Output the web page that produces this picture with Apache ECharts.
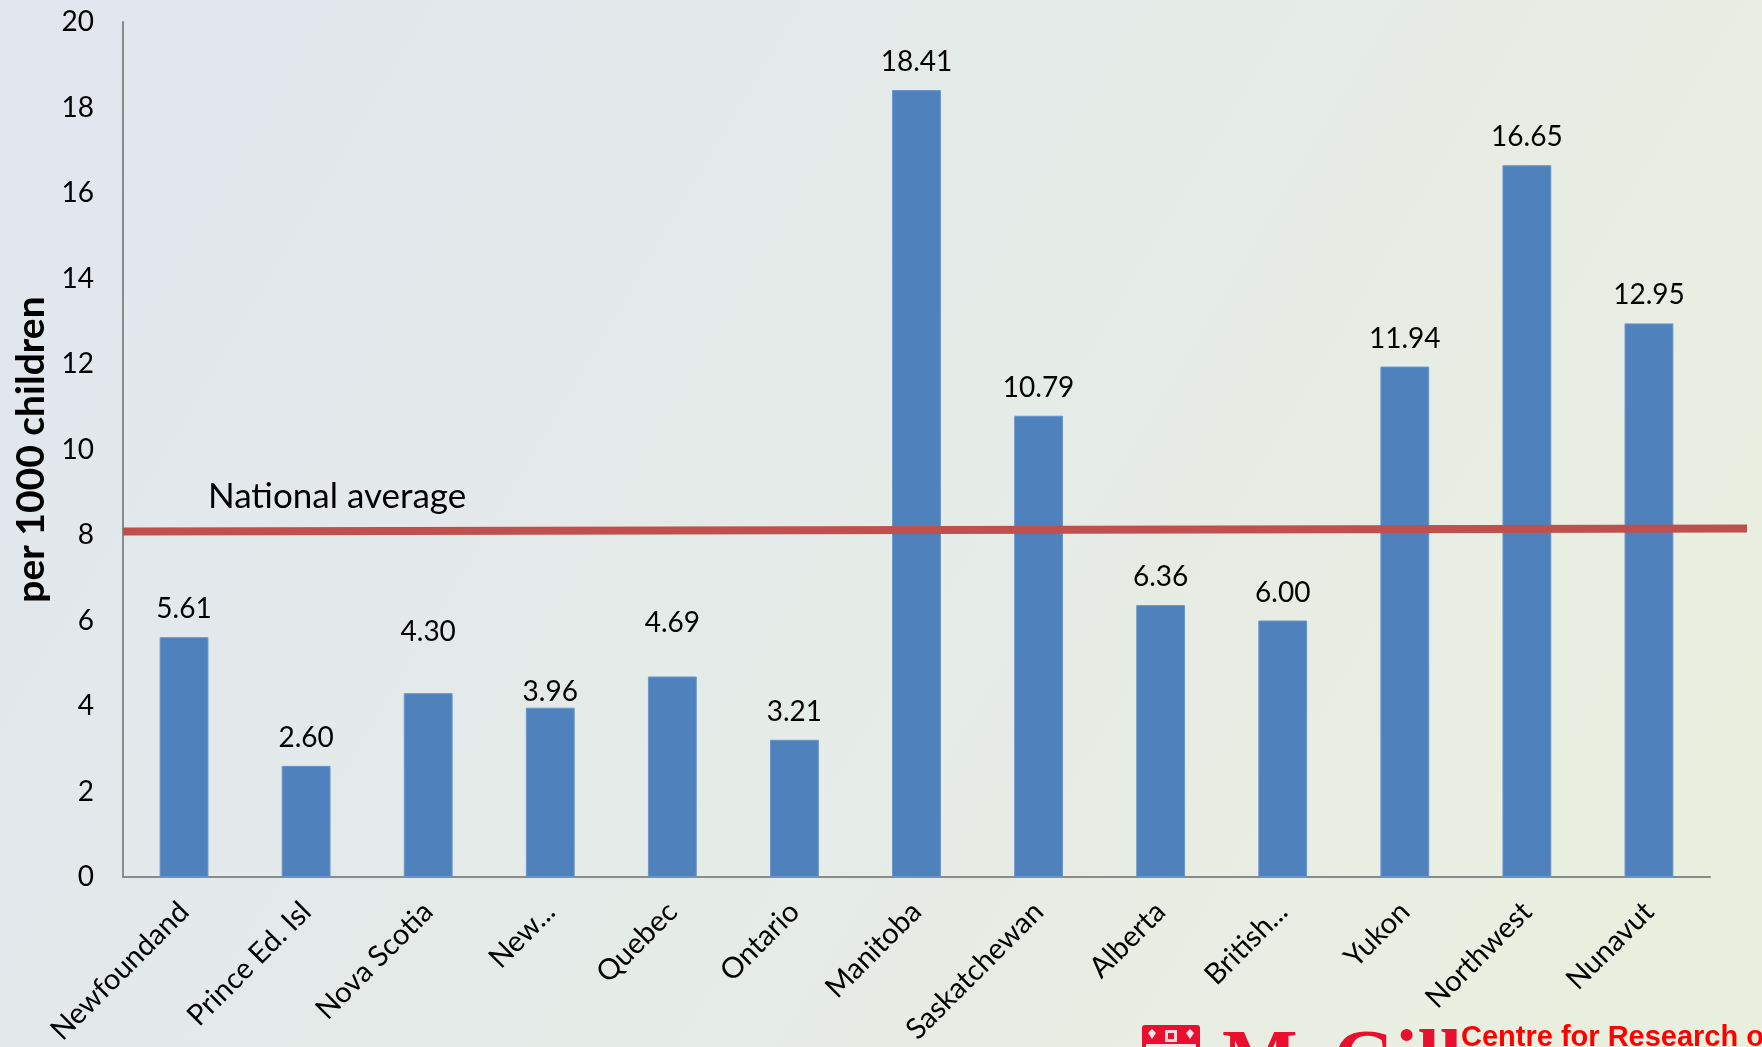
<!DOCTYPE html>
<html>
<head>
<meta charset="utf-8">
<title>Rate per 1000 children by province and territory</title>
<script src="https://cdn.jsdelivr.net/npm/echarts@6/dist/echarts.min.js"></script>
<style>
  html, body { margin: 0; padding: 0; }
  #chart { width: 1762px; height: 1047px; }
</style>
</head>
<body>
<div id="chart"></div>
<script>
// Provinces and territories (labels as shown on the axis)
const categories = ['Newfoundand', 'Prince Ed. Isl', 'Nova Scotia', 'New...', 'Quebec', 'Ontario',
  'Manitoba', 'Saskatchewan', 'Alberta', 'British...', 'Yukon', 'Northwest', 'Nunavut'];

// Rate per 1000 children
const rates = [5.61, 2.60, 4.30, 3.96, 4.69, 3.21, 18.41, 10.79, 6.36, 6.00, 11.94, 16.65, 12.95];

// Extra vertical lift (px) of a few value labels that sit off their default spot
const labelLift = [0, 0, 33, -12, 26, 0, 0, 0, 0, 0, 0, 0, 0];

// Value axis range and step
const yMin = 0;
const yMax = 20;
const yStep = 2;

// National average reference line (value at its left and right ends)
const nationalAverage = [8.08, 8.15];
const nationalAverageLabel = 'National average';

const yAxisTitle = 'per 1000 children';

const W = 1762, H = 1047;
const gridLeft = 123, gridRight = 52, gridTop = 22, gridBottom = 170;

const chart = echarts.init(document.getElementById('chart'), null, { renderer: 'canvas' });

const barData = rates.map((v, i) => ({
  value: v,
  label: { offset: [0, -labelLift[i]] }
}));

const option = {
  backgroundColor: {
    type: 'linear', x: 0, y: 0, x2: 1, y2: 1,
    colorStops: [
      { offset: 0, color: '#e1e6ef' },
      { offset: 0.5, color: '#e5ebe7' },
      { offset: 1, color: '#eaf0de' }
    ]
  },
  animation: false,
  grid: {
    left: gridLeft, right: gridRight, top: gridTop, bottom: gridBottom,
    containLabel: false,
    outerBoundsMode: 'none'
  },
  xAxis: {
    type: 'category',
    data: categories,
    axisLine: { show: true, lineStyle: { color: '#8a8a8a', width: 2 } },
    axisTick: { show: false },
    axisLabel: {
      rotate: 45,
      margin: 30,
      interval: 0,
      color: '#000',
      fontFamily: 'Lato',
      fontSize: 29
    }
  },
  yAxis: {
    type: 'value',
    min: yMin,
    max: yMax,
    interval: yStep,
    name: yAxisTitle,
    nameLocation: 'middle',
    nameGap: 72,
    nameRotate: 90,
    nameTextStyle: { color: '#000', fontFamily: 'Lato', fontWeight: 'bold', fontSize: 39 },
    axisLine: { show: true, lineStyle: { color: '#8a8a8a', width: 2 } },
    axisTick: { show: false },
    splitLine: { show: false },
    axisLabel: { margin: 29, color: '#000', fontFamily: 'Lato', fontSize: 28 }
  },
  series: [{
    type: 'bar',
    data: barData,
    barWidth: '40%',
    itemStyle: { color: '#4f81bd', borderColor: '#6a95c9', borderWidth: 1 },
    label: {
      show: true,
      position: 'top',
      distance: 14,
      color: '#000',
      fontFamily: 'Lato',
      fontSize: 28,
      formatter: p => p.value.toFixed(2)
    },
    markLine: {
      silent: true,
      symbol: ['none', 'none'],
      lineStyle: { color: '#c0504d', width: 8, type: 'solid' },
      label: { show: false },
      data: [[
        { x: gridLeft, yAxis: nationalAverage[0] },
        { x: W - 15, yAxis: nationalAverage[1] }
      ]]
    }
  }],
  graphic: []
};

chart.setOption(option);

// Caption above the reference line, placed through the value scale
const captionY = chart.convertToPixel({ yAxisIndex: 0 }, nationalAverage[0]);
const graphics = [
  {
    type: 'text',
    left: 208,
    top: captionY - 52,
    style: { text: nationalAverageLabel, fill: '#000', font: '35px Lato' }
  },
  // Crest
  {
    type: 'group',
    left: 1142,
    top: 1025,
    children: [
      { type: 'rect', shape: { x: 0, y: 0, width: 58, height: 40, r: 3 }, style: { fill: '#e8102e' } },
      { type: 'rect', shape: { x: 23, y: 5, width: 12, height: 12 }, style: { fill: '#f7d9dc' } },
      { type: 'rect', shape: { x: 26, y: 8, width: 6, height: 6 }, style: { fill: '#e8102e' } },
      { type: 'polygon', shape: { points: [[6, 8], [10, 4], [14, 8], [10, 14]] }, style: { fill: '#fbe3e6' } },
      { type: 'polygon', shape: { points: [[44, 8], [48, 4], [52, 8], [48, 14]] }, style: { fill: '#fbe3e6' } },
      { type: 'rect', shape: { x: 4, y: 19, width: 50, height: 3 }, style: { fill: '#fbe3e6' } }
    ]
  },
  {
    type: 'text',
    left: 1222,
    top: 1024,
    style: { text: 'McGill', fill: '#e8102e', font: 'bold 80px "Liberation Serif"' }
  },
  {
    type: 'text',
    left: 1461,
    top: 1023,
    style: { text: 'Centre for Research on Children and Families', fill: '#ff0000', font: 'bold 29px "Liberation Sans"' }
  }
];
chart.setOption({ graphic: graphics });
</script>
</body>
</html>
